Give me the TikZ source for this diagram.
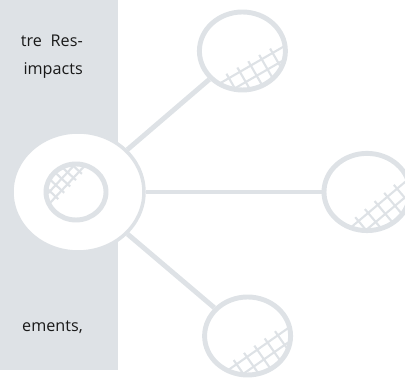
\documentclass[tikz,border=0pt]{standalone}
\usepackage{fontspec}
\setmainfont{Open Sans}
\usepackage{tikz}
\usetikzlibrary{shapes.geometric}
\usetikzlibrary{positioning}

\definecolor{panelgray}{RGB}{222,226,230}

\tikzset{
  ring/.style={draw=panelgray, line width=3.5pt, ellipse, inner sep=0pt},
  handle/.style={draw=panelgray, line width=3.5pt},
  net/.style={draw=panelgray, line width=1.5pt},
  txt/.style={anchor=base east, inner sep=0pt, text=black!90, font=\fontsize{11.5}{14}\selectfont}
}

\begin{document}
\begin{tikzpicture}

\useasboundingbox (0,0) rectangle (10.125,9.45);
\clip (0,0) rectangle (10.125,9.45);

% grey side panel
\fill [panelgray] (0,0.2) rectangle (2.95,9.45);

\node[txt] (l1) at (2.075,8.28) {tre\hspace{0.22cm}Res-};
\node[txt] (l2) at (2.075,7.58) {impacts};
\node[txt] (l3) at (2.075,1.17) {ements,};

% hub and satellites
\node[ellipse, fill=white, draw=panelgray, line width=2.5pt, inner sep=0pt,
      minimum width=3.3cm, minimum height=3cm] (hub) at (1.95,4.65) {};
\node[ring, minimum width=1.5cm, minimum height=1.4cm] (hubring) at (1.9,4.65) {};
\node[ring, minimum width=2.15cm, minimum height=1.95cm] (sat1) at (6.06,8.175) {};
\node[ring, minimum width=2.15cm, minimum height=1.93cm] (sat2) at (9.175,4.65) {};
\node[ring, minimum width=2.15cm, minimum height=1.95cm] (sat3) at (6.19,1.05) {};

\draw[handle] (hub) -- (sat1);
\draw[handle] (hub) -- (sat2);
\draw[handle] (hub) -- (sat3);

% cross hatching inside the rings
\foreach \c/\rx/\ry/\a in {sat1/1.05/0.95/-60, sat2/1.05/0.94/-50, sat3/1.05/0.95/-55, hubring/0.72/0.66/137}
{
  \begin{scope}
    \clip (\c.center) ellipse [x radius=\rx, y radius=\ry];
    \begin{scope}[shift={(\c.center)}, rotate=\a, scale=\rx]
      \draw[net] (0.4,-1) -- (0.4,1);
      \draw[net] (0.68,-1) -- (0.68,0.7);
      \foreach \t in {-0.6,-0.3,0,0.3,0.6}
        \draw[net] (0.28,\t) -- (1,\t);
    \end{scope}
  \end{scope}
}

\end{tikzpicture}
\end{document}
